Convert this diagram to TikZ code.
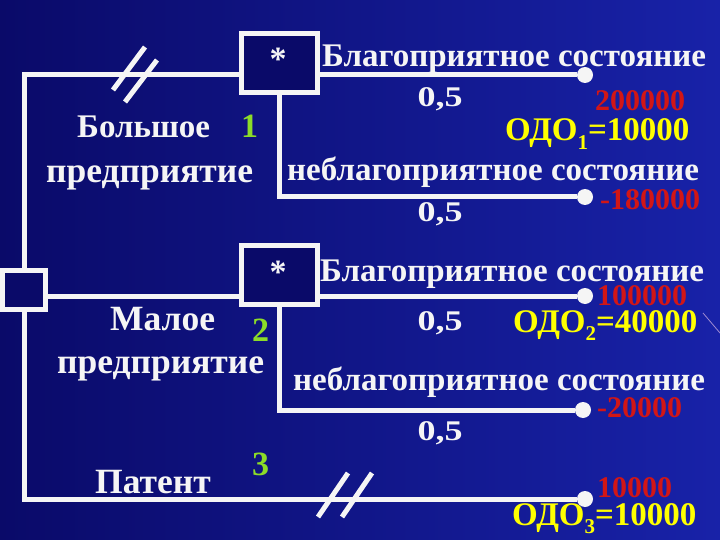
\documentclass[tikz,border=0pt]{standalone}
\usepackage{fontspec}
\setmainfont{Liberation Serif}
\definecolor{bgA}{RGB}{10,10,105}
\definecolor{bgB}{RGB}{24,34,168}
\definecolor{fg}{RGB}{245,245,245}
\definecolor{redv}{RGB}{210,22,22}
\definecolor{yel}{RGB}{255,255,0}
\definecolor{grn}{RGB}{140,220,40}
\definecolor{boxfill}{RGB}{10,10,105}
\definecolor{streak}{RGB}{160,140,210}
\newcommand\subnum[1]{\raisebox{-0.25em}{\fontsize{21}{21}\selectfont #1}}
\tikzset{
  wire/.style={draw=fg, line width=5pt},
  dbox/.style={draw=fg, fill=boxfill, line width=5pt, minimum width=76pt, minimum height=59pt, inner sep=0pt},
  rootbox/.style={draw=fg, fill=boxfill, line width=5pt, minimum width=43pt, minimum height=39pt, inner sep=0pt},
  leaf/.style={circle, fill=fg, minimum size=16pt, inner sep=0pt},
  st/.style={text=fg, font=\fontsize{33}{33}\selectfont\bfseries, inner sep=0pt, anchor=base west},
  lab/.style={text=fg, font=\fontsize{35.5}{36}\selectfont\bfseries, inner sep=0pt, anchor=base west},
  pr/.style={text=fg, font=\fontsize{30}{30}\selectfont\bfseries, inner sep=0pt, anchor=base},
  rv/.style={text=redv, font=\fontsize{30}{30}\selectfont\bfseries, inner sep=0pt, anchor=base west},
  yv/.style={text=yel, font=\fontsize{33}{33}\selectfont\bfseries, inner sep=0pt, anchor=base west},
  num/.style={text=grn, font=\fontsize{34}{34}\selectfont\bfseries, inner sep=0pt, anchor=base west},
  star/.style={text=fg, font=\fontsize{34}{34}\selectfont\bfseries, inner sep=0pt, anchor=base},
  slash/.style={draw=fg, line width=5pt}
}
\begin{document}
\begin{tikzpicture}[x=1pt,y=-1pt]
\useasboundingbox (0,0) rectangle (720,540);
\shade[left color=bgA, right color=bgB] (0,0) rectangle (720,540);
\draw[streak, line width=0.8pt] (703,313) -- (720,333);

% leaves
\node[leaf] (c1) at (585,75) {};
\node[leaf] (c2) at (585,197) {};
\node[leaf] (c3) at (585,296) {};
\node[leaf] (c4) at (583,410) {};
\node[leaf] (c5) at (585,499) {};

% connectors (drawn before boxes so boxes cover ends)
\coordinate (rt) at (24,290);
\coordinate (b1) at (279.5,63);
\coordinate (b2) at (279.5,274.5);
\draw[wire] (rt) -- (rt |- c1) -- (b1 |- c1);
\draw[wire] (b1 |- c1) -- (c1);
\draw[wire] (b1) |- (c2);
\draw[wire] (rt |- c3) -- (c3);
\draw[wire] (b2) |- (c4);
\draw[wire] (rt) |- (c5);

% boxes
\node[rootbox] (root) at (rt) {};
\node[dbox] (box1) at (b1) {};
\node[dbox] (box2) at (b2) {};
\node[star] (star1) at (278,71) {*};
\node[star] (star2) at (278,283) {*};

% slashes
\coordinate (t1a) at (113,90); \coordinate (t1b) at (145,47);
\coordinate (t2a) at (125,102); \coordinate (t2b) at (157,60);
\draw[slash] (t1a) -- (t1b);
\draw[slash] (t2a) -- (t2b);
\coordinate (u1a) at (318,517); \coordinate (u1b) at (348,473);
\coordinate (u2a) at (342,517); \coordinate (u2b) at (372,473);
\draw[slash] (u1a) -- (u1b);
\draw[slash] (u2a) -- (u2b);

% row 1
\node[st] (s1) at (322,67) {Благоприятное состояние};
\node[pr] (p1) at (440,107) {\scalebox{1.2}[0.95]{0,5}};
\node[rv] (r1) at (595,111) {200000};
\node[yv] (o1) at (505,141) {ОДО\subnum{1}=10000};
\node[st] (l1) at (77,138) {Большое};
\node[num] (n1) at (241,138) {1};
\node[lab] (l1b) at (46,183) {предприятие};
\node[st] (s2) at (287,181) {неблагоприятное состояние};
\node[rv] (r2) at (600,210) {-180000};
\node[pr] (p2) at (440,222) {\scalebox{1.2}[0.95]{0,5}};

% row 2
\node[st] (s3) at (320,281) {Благоприятное состояние};
\node[rv] (r3) at (597,305) {100000};
\node[pr] (p3) at (440,330) {\scalebox{1.2}[0.95]{0,5}};
\node[yv] (o2) at (513,332) {ОДО\subnum{2}=40000};
\node[lab] (l2) at (110,330) {Малое};
\node[num] (n2) at (252,341) {2};
\node[lab] (l2b) at (57,373) {предприятие};
\node[st] (s4) at (293,390) {неблагоприятное состояние};
\node[rv] (r4) at (597,417) {-20000};
\node[pr] (p4) at (440,440) {\scalebox{1.2}[0.95]{0,5}};

% row 3
\node[num] (n3) at (252,475) {3};
\node[lab] (l3) at (95,493) {Патент};
\node[rv] (r5) at (597,497) {10000};
\node[yv] (o3) at (512,525) {ОДО\subnum{3}=10000};
\end{tikzpicture}
\end{document}
